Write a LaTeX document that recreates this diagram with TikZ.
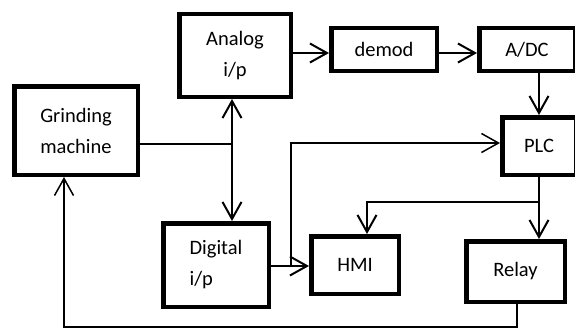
\documentclass[tikz,border=0pt]{standalone}
\usepackage{fontspec}
\setmainfont{Carlito}
\usetikzlibrary{arrows.meta}
\begin{document}
\begin{tikzpicture}[x=1pt,y=-1pt,
  blk/.style={draw,line width=4.5pt,inner sep=0pt,font=\fontsize{20.5}{31}\selectfont,align=center},
  conn/.style={line width=2pt},
  thin/.style={line width=1.5pt},
  arr/.style={-{Straight Barb[length=17pt,width=19pt]}},
  arrb/.style={{Straight Barb[length=17pt,width=19pt]}-{Straight Barb[length=17pt,width=19pt]}}]
\useasboundingbox (0,0) rectangle (575,329);
% boxes (outer extents minus line width)
\node[blk,minimum width=123.5pt,minimum height=88.5pt] (gm) at (76,130.5) {Grinding\\machine};
\node[blk,minimum width=111.5pt,minimum height=82.5pt] (an) at (235,55.5) {Analog\\i/p};
\node[blk,minimum width=105.5pt,minimum height=42.5pt] (de) at (384,49.5) {demod};
\node[blk,minimum width=95.5pt,minimum height=42.5pt] (ad) at (527,49.5) {A/DC};
\node[blk,minimum width=73.5pt,minimum height=57.5pt] (plc) at (539,146) {PLC};
\node[blk,minimum width=105.5pt,minimum height=83.5pt,align=left] (di) at (216,265) {Digital\\i/p};
\node[blk,minimum width=87.5pt,minimum height=57.5pt] (hmi) at (355,265) {HMI};
\node[blk,minimum width=98.5pt,minimum height=60.5pt] (re) at (515.5,271.5) {Relay};
% helper coordinates
\coordinate (ya) at (0,53);
\coordinate (xj) at (232,0);
\coordinate (jg) at (232,144);
\coordinate (br) at (539,202);
\coordinate (bh) at (367,202);
\coordinate (pa) at (291,266);
\coordinate (pb) at (291,143);
\coordinate (fr) at (517,327);
\coordinate (fl) at (64,327);
% connectors
\draw[conn] (gm.east |- jg) -- (jg);
\draw[conn,arrb] (an.south -| xj) -- (di.north -| xj);
\draw[conn,arr] (an.east |- ya) -- (de.west |- ya);
\draw[conn,arr] (de.east |- ya) -- (ad.west |- ya);
\draw[conn,arr] (ad.south -| plc.north) -- (plc.north);
\draw[conn,arr] (plc.south) -- (re.north -| plc.south);
\draw[conn,arr] (br) -- (bh) -- (hmi.north -| bh);
\draw[conn,arr] (di.east |- pa) -- (hmi.west |- pa);
\draw[thin,arr] (pa) -- (pb) -- (plc.west |- pb);
\draw[thin,arr] (re.south -| fr) -- (fr) -- (fl) -- (gm.south -| fl);
\end{tikzpicture}
\end{document}
